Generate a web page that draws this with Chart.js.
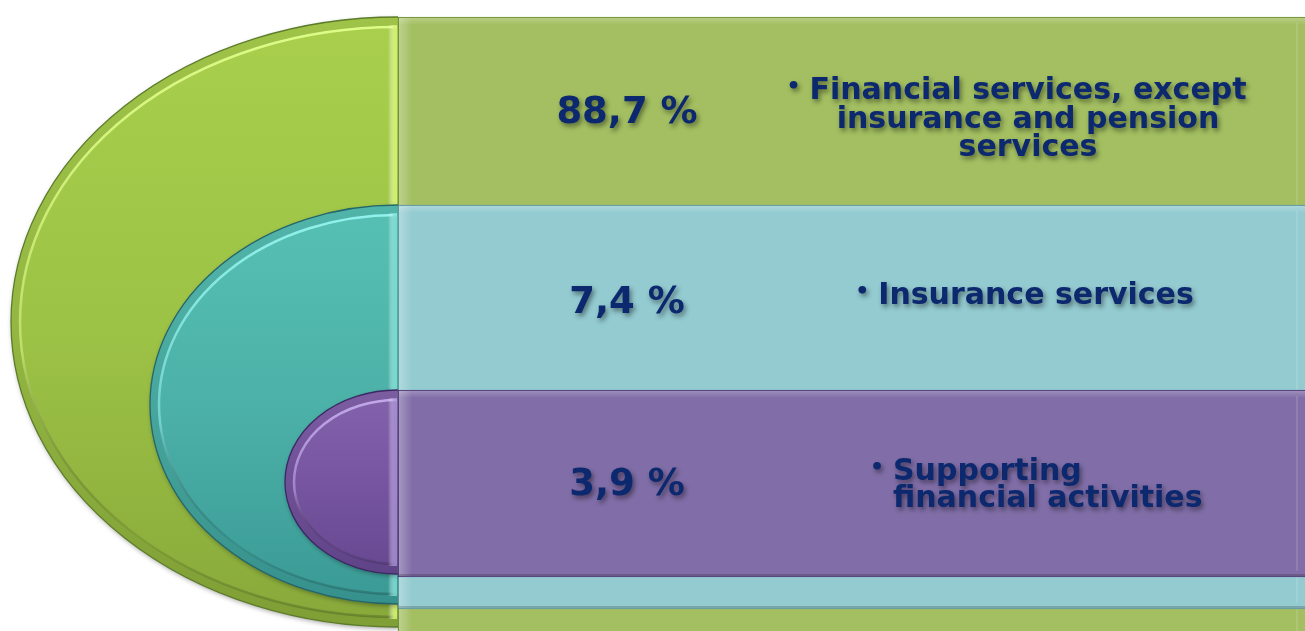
<!DOCTYPE html>
<html>
<head>
<meta charset="utf-8">
<script src="https://cdn.jsdelivr.net/npm/chart.js@4.4.1/dist/chart.umd.min.js"></script>
<style>
html,body{margin:0;padding:0;background:#ffffff;overflow:hidden}
#wrap{width:1305px;height:631px;position:relative}
</style>
</head>
<body>
<div id="wrap"><canvas id="c"></canvas></div>
<script>
// ---- data ----
const categories = [
  ["Financial services, except", "insurance and pension", "services"],
  ["Insurance services"],
  ["Supporting", "financial activities"]
];
const shares = [88.7, 7.4, 3.9];
const shareLabels = ["88,7 %", "7,4 %", "3,9 %"];

// ---- layout (pixel units on hidden 0..1305 / 0..631 axes) ----
const bands = [
  { top: 17,  bottom: 645, ellBottom: 627, left: 11 },
  { top: 205, bottom: 609, ellBottom: 604, left: 150 },
  { top: 390, bottom: 577, ellBottom: 574, left: 285 }
];
const SPLIT_X = 398;
const RECT_RIGHT = 1308;
const PCT_X = 627;
const pctBaseline = [123, 313, 495];
const textLayout = [
  { align: 'center', x: 1028, baselines: [99, 128, 156] },
  { align: 'center', x: 1036, baselines: [304] },
  { align: 'left',   x: 893,  baselines: [480, 507] }
];

// ---- styles ----
const rectFill   = ['#a3bf61', '#93cbd1', '#816ea8'];
const rectBorder = ['#6d8a38', '#5a8f95', '#4d3d75'];
const ellTop     = ['#a9cf4d', '#57c0b4', '#8463ad'];
const ellMid     = ['#9dc346', '#4cb1a8', '#7755a0'];
const ellBot     = ['#88a93a', '#3a9a95', '#664890'];
const ellLine    = ['#5d7c29', '#23666c', '#3c2864'];
const ellHi      = ['rgba(225,255,140,0.95)', 'rgba(150,245,240,0.95)', 'rgba(200,175,240,0.95)'];
const ellStrip   = ['rgba(215,245,120,0.85)', 'rgba(130,225,220,0.8)', 'rgba(175,150,220,0.75)'];
const TEXT_COLOR = '#0c286e';

const shapesPlugin = {
  id: 'halfEllipses',
  beforeDatasetsDraw(chart) {
    const ctx = chart.ctx;
    const xs = chart.scales.x, ys = chart.scales.y;
    bands.forEach((b, i) => {
      const cx = xs.getPixelForValue(SPLIT_X);
      const t = ys.getPixelForValue(b.top), bt = ys.getPixelForValue(b.ellBottom);
      const cy = (t + bt) / 2, ry = Math.abs(bt - t) / 2;
      const rx = cx - xs.getPixelForValue(b.left);
      ctx.save();
      ctx.shadowColor = 'rgba(0,0,0,0.35)';
      ctx.shadowBlur = 5; ctx.shadowOffsetX = 1; ctx.shadowOffsetY = 2;
      ctx.beginPath();
      ctx.ellipse(cx, cy, rx, ry, 0, Math.PI / 2, Math.PI * 1.5, false);
      ctx.closePath();
      const g = ctx.createLinearGradient(0, t, 0, bt);
      g.addColorStop(0, ellTop[i]); g.addColorStop(0.5, ellMid[i]); g.addColorStop(1, ellBot[i]);
      ctx.fillStyle = g;
      ctx.fill();
      ctx.restore();
      ctx.save();
      ctx.beginPath();
      ctx.ellipse(cx, cy, rx, ry, 0, Math.PI / 2, Math.PI * 1.5, false);
      ctx.closePath();
      ctx.clip();
      ctx.beginPath();
      ctx.ellipse(cx, cy, rx, ry, 0, Math.PI / 2, Math.PI * 1.5, false);
      ctx.ellipse(cx, cy, rx - 10, ry - 10, 0, Math.PI * 1.5, Math.PI / 2, true);
      ctx.closePath();
      ctx.fillStyle = 'rgba(0,0,0,0.06)';
      ctx.fill();
      ctx.beginPath();
      ctx.ellipse(cx - 1, cy, rx - 10, ry - 10, 0, Math.PI / 2, Math.PI * 1.5, false);
      const hg = ctx.createLinearGradient(0, t, 0, bt);
      hg.addColorStop(0, ellHi[i]); hg.addColorStop(0.55, ellHi[i].replace(/[\d.]+\)$/, '0.55)'));
      hg.addColorStop(0.85, 'rgba(0,0,0,0.05)'); hg.addColorStop(1, 'rgba(0,0,0,0.2)');
      ctx.strokeStyle = hg; ctx.lineWidth = 2.5;
      ctx.stroke();
      const sg = ctx.createLinearGradient(cx - 10, 0, cx, 0);
      sg.addColorStop(0, 'rgba(255,255,255,0)');
      sg.addColorStop(0.6, ellStrip[i]);
      sg.addColorStop(1, ellStrip[i]);
      ctx.fillStyle = sg;
      ctx.fillRect(cx - 10, t + 8, 9, bt - t - 16);
      ctx.restore();
      ctx.save();
      ctx.beginPath();
      ctx.ellipse(cx, cy, rx, ry, 0, Math.PI / 2, Math.PI * 1.5, false);
      ctx.strokeStyle = ellLine[i]; ctx.lineWidth = 1.3;
      ctx.stroke();
      ctx.restore();
    });
  },
  afterDatasetDraw(chart, args) {
    const el = args.meta.data[0];
    if (!el) return;
    const p = el.getProps(['x', 'y', 'base', 'height'], true);
    const ctx = chart.ctx;
    const left = Math.min(p.x, p.base), right = Math.max(p.x, p.base);
    const top = p.y - p.height / 2, bottom = p.y + p.height / 2;
    ctx.save();
    let g = ctx.createLinearGradient(left + 1, 0, left + 14, 0);
    g.addColorStop(0, 'rgba(255,255,255,0.28)'); g.addColorStop(1, 'rgba(255,255,255,0)');
    ctx.fillStyle = g; ctx.fillRect(left + 1, top + 1, 13, p.height - 2);
    g = ctx.createLinearGradient(0, top + 1, 0, top + 8);
    g.addColorStop(0, 'rgba(255,255,255,0.22)'); g.addColorStop(1, 'rgba(255,255,255,0)');
    ctx.fillStyle = g; ctx.fillRect(left + 1, top + 1, right - left - 2, 7);
    ctx.fillStyle = 'rgba(255,255,255,0.12)';
    ctx.fillRect(right - 12, top + 6, 2, p.height - 12);
    ctx.fillStyle = 'rgba(0,0,0,0.18)';
    ctx.fillRect(left + 1, bottom - 3, right - left - 2, 2);
    ctx.restore();
  },
  afterDatasetsDraw(chart) {
    const ctx = chart.ctx;
    const xs = chart.scales.x, ys = chart.scales.y;
    ctx.save();
    ctx.fillStyle = TEXT_COLOR;
    ctx.shadowColor = 'rgba(0,0,0,0.45)';
    ctx.shadowBlur = 5; ctx.shadowOffsetX = 2; ctx.shadowOffsetY = 3;
    ctx.font = 'bold 37px "DejaVu Sans", sans-serif';
    ctx.textAlign = 'center'; ctx.textBaseline = 'alphabetic';
    shareLabels.forEach((s, i) => {
      ctx.fillText(s, xs.getPixelForValue(PCT_X), ys.getPixelForValue(pctBaseline[i]));
    });
    ctx.font = 'bold 30px "DejaVu Sans", sans-serif';
    categories.forEach((lines, i) => {
      const L = textLayout[i];
      lines.forEach((line, j) => {
        const y = ys.getPixelForValue(L.baselines[j]);
        const w = ctx.measureText(line).width;
        const x0 = L.align === 'center' ? xs.getPixelForValue(L.x) - w / 2 : xs.getPixelForValue(L.x);
        ctx.textAlign = 'left';
        ctx.fillText(line, x0, y);
        if (j === 0) {
          ctx.save();
          ctx.font = 'bold 22px "DejaVu Sans", sans-serif';
          ctx.textAlign = 'right';
          ctx.fillText('\u2022', x0 - 9, y - 6);
          ctx.restore();
        }
      });
    });
    ctx.restore();
  }
};

const datasets = bands.map((b, i) => ({
  label: categories[i].join(' ') + ' (' + shares[i] + ' %)',
  data: [{ y: (b.top + b.bottom) / 2, x: [SPLIT_X, RECT_RIGHT] }],
  barThickness: b.bottom - b.top,
  grouped: false,
  backgroundColor: rectFill[i],
  borderColor: rectBorder[i],
  borderWidth: 1.2,
  borderSkipped: false,
  order: bands.length - i
}));

new Chart(document.getElementById('c'), {
  type: 'bar',
  data: { datasets },
  options: {
    indexAxis: 'y',
    responsive: true,
    maintainAspectRatio: false,
    animation: false,
    layout: { padding: 0 },
    plugins: { legend: { display: false }, tooltip: { enabled: false } },
    scales: {
      x: { type: 'linear', min: 0, max: 1305, display: false, offset: false },
      y: { type: 'linear', min: 0, max: 631, reverse: true, display: false, offset: false }
    }
  },
  plugins: [shapesPlugin]
});
</script>
</body>
</html>
